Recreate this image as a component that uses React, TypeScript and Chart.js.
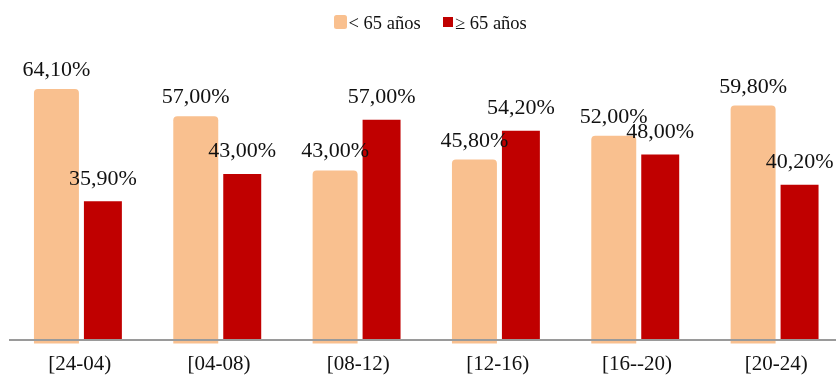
import React, { useEffect, useRef } from "react";
import { Chart, registerables } from "chart.js";

Chart.register(...registerables);

// Age-group share per time slot
const categories = ["[24-04)", "[04-08)", "[08-12)", "[12-16)", "[16--20)", "[20-24)"];
const under65 = [64.1, 57.0, 43.0, 45.8, 52.0, 59.8];
const over65 = [35.9, 43.0, 57.0, 54.2, 48.0, 40.2];
const seriesNames = ["< 65 años", "≥ 65 años"];

const ORANGE = "#F9C08F";
const RED = "#C00000";
const SERIF = "'Liberation Serif', 'Times New Roman', serif";

const fmt = (v: number) => v.toFixed(2).replace(".", ",") + "%";

// Value labels above every bar
const valueLabels = {
  id: "valueLabels",
  afterDatasetsDraw(chart: any) {
    const { ctx } = chart;
    const yScale = chart.scales.y;
    ctx.save();
    ctx.font = `22px ${SERIF}`;
    ctx.fillStyle = "#111";
    ctx.textAlign = "center";
    ctx.textBaseline = "alphabetic";
    chart.data.datasets.forEach((ds: any, di: number) => {
      const meta = chart.getDatasetMeta(di);
      meta.data.forEach((el: any, i: number) => {
        const v = ds.data[i];
        ctx.fillText(fmt(v), el.x, yScale.getPixelForValue(v) - 16.5);
      });
    });
    ctx.restore();
  },
};

// Legend drawn centred above the plot
const topLegend = {
  id: "topLegend",
  afterDraw(chart: any) {
    const { ctx } = chart;
    ctx.save();
    ctx.font = `18.5px ${SERIF}`;
    ctx.textBaseline = "alphabetic";
    ctx.textAlign = "left";
    // orange swatch (rounded, like its bars)
    ctx.fillStyle = ORANGE;
    ctx.beginPath();
    (ctx as any).roundRect(334, 15, 13, 14, 2.5);
    ctx.fill();
    ctx.fillStyle = "#111";
    ctx.fillText(seriesNames[0], 348.5, 29);
    // red swatch
    ctx.fillStyle = RED;
    ctx.fillRect(443, 17, 10, 10);
    ctx.fillStyle = "#111";
    ctx.fillText(seriesNames[1], 455, 29);
    ctx.restore();
  },
};

export default function App() {
  const ref = useRef<HTMLCanvasElement>(null);

  useEffect(() => {
    document.body.style.margin = "0";
    const chart = new Chart(ref.current!, {
      type: "bar",
      data: {
        labels: categories,
        datasets: [
          {
            label: seriesNames[0],
            data: under65,
            backgroundColor: ORANGE,
            borderRadius: 4,
            inflateAmount: 3.5,
            barPercentage: 0.817,
            categoryPercentage: 0.667,
            clip: false,
          } as any,
          {
            label: seriesNames[1],
            data: over65,
            backgroundColor: RED,
            inflateAmount: 0,
            barPercentage: 0.817,
            categoryPercentage: 0.667,
            clip: false,
          } as any,
        ],
      },
      options: {
        responsive: false,
        animation: false,
        layout: { padding: { top: 31, left: 10, right: 4, bottom: 0 } },
        plugins: {
          legend: { display: false },
          tooltip: { enabled: false },
        },
        scales: {
          x: {
            grid: { display: false, drawTicks: false },
            border: { display: true, color: "#9a9a9a", width: 2, z: 1 },
            ticks: {
              color: "#111",
              font: { family: SERIF, size: 21 },
              padding: 12,
              maxRotation: 0,
            },
            afterFit: (s: any) => {
              s.height = 38;
            },
          },
          y: {
            display: false,
            min: 0,
            max: 80,
          },
        },
      },
      plugins: [valueLabels, topLegend],
    });
    return () => chart.destroy();
  }, []);

  return (
    <div
      style={{
        position: "fixed",
        left: 0,
        top: 0,
        width: 836,
        height: 378,
        overflow: "hidden",
        background: "#fff",
      }}
    >
      <canvas ref={ref} width={850} height={378} style={{ width: 850, height: 378, display: "block" }} />
    </div>
  );
}
